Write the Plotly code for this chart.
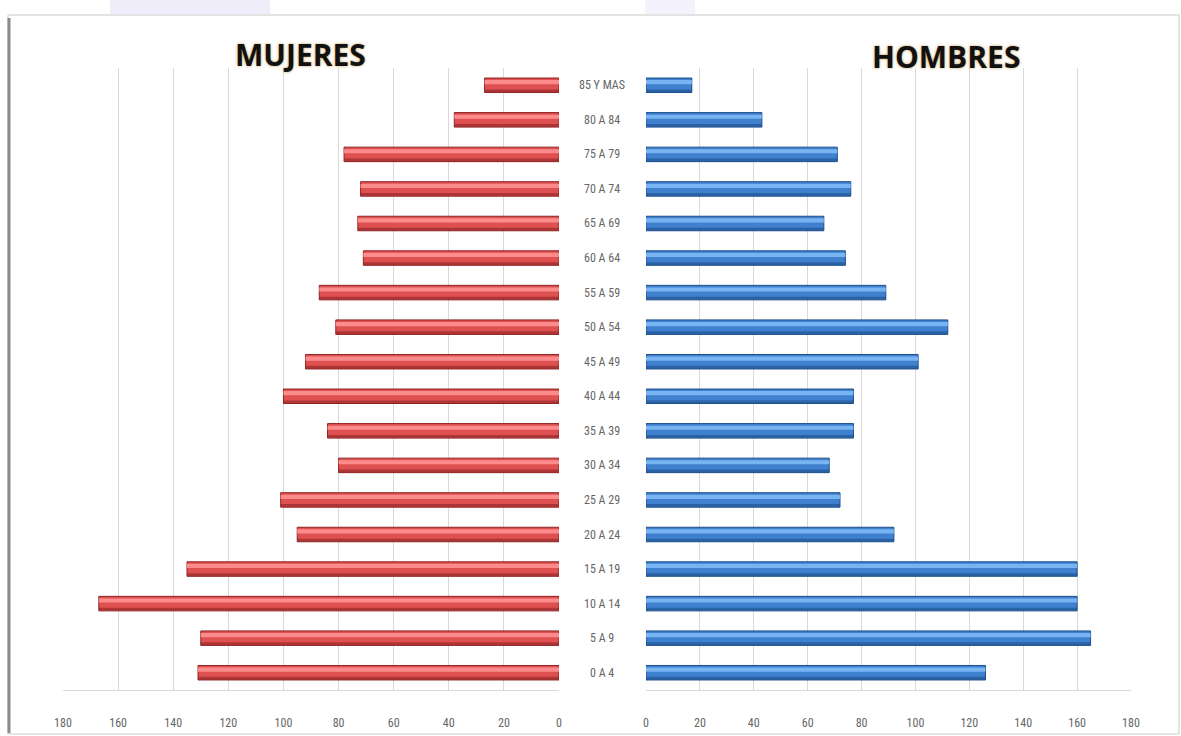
import plotly.graph_objects as go

categories = ["0 A 4", "5 A 9", "10 A 14", "15 A 19", "20 A 24", "25 A 29", "30 A 34",
              "35 A 39", "40 A 44", "45 A 49", "50 A 54", "55 A 59", "60 A 64",
              "65 A 69", "70 A 74", "75 A 79", "80 A 84", "85 Y MAS"]
mujeres = [131, 130, 167, 135, 95, 101, 80, 84, 100, 92, 81, 87, 71, 73, 72, 78, 38, 27]
hombres = [126, 165, 160, 160, 92, 72, 68, 77, 77, 101, 112, 89, 74, 66, 76, 71, 43, 17]
tick_vals = [0, 20, 40, 60, 80, 100, 120, 140, 160, 180]

W, H = 1181, 736
def px_x(p): return p / W
def px_y(p): return 1 - p / H

fig = go.Figure()

def add_side(vals, xa, ya, base, dark, light):
    fig.add_trace(go.Bar(y=categories, x=vals, orientation="h", xaxis=xa, yaxis=ya,
                         width=0.42, marker=dict(color=base, line=dict(color=dark, width=1)),
                         showlegend=False, hoverinfo="x+y"))
    fig.add_trace(go.Bar(y=categories, x=vals, orientation="h", xaxis=xa, yaxis=ya,
                         width=0.12, offset=0.03, marker=dict(color=light, line=dict(width=0)),
                         showlegend=False, hoverinfo="skip"))
    fig.add_trace(go.Bar(y=categories, x=vals, orientation="h", xaxis=xa, yaxis=ya,
                         width=0.08, offset=-0.2, marker=dict(color=dark, line=dict(width=0)),
                         opacity=0.6, showlegend=False, hoverinfo="skip"))

add_side(mujeres, "x", "y", "#df5050", "#8e2424", "#fc8c8c")
add_side(hombres, "x2", "y2", "#3f80cf", "#1f4f8a", "#78b4f2")

tickfont = dict(family="Liberation Sans Narrow, Arial Narrow, Roboto Condensed, Liberation Sans",
                size=12, color="#666666")
grid = "#d9d9d9"
ydom = [px_y(690), px_y(68)]

fig.update_layout(
    width=W, height=H, autosize=False,
    margin=dict(l=0, r=0, t=0, b=0, pad=0, autoexpand=False),
    paper_bgcolor="white", plot_bgcolor="white",
    barmode="overlay",
    xaxis=dict(domain=[px_x(63), px_x(559)], range=[180, 0], tickvals=tick_vals,
               showgrid=True, gridcolor=grid, zeroline=False, showline=True, linecolor=grid,
               ticks="", tickfont=tickfont, ticklabelstandoff=22, fixedrange=True,
               automargin=False),
    xaxis2=dict(domain=[px_x(646), px_x(1131)], range=[0, 180], tickvals=tick_vals,
                showgrid=True, gridcolor=grid, zeroline=False, showline=True, linecolor=grid,
                ticks="", tickfont=tickfont, ticklabelstandoff=22, fixedrange=True, anchor="y2",
                automargin=False),
    yaxis=dict(domain=ydom, categoryorder="array", categoryarray=categories,
               range=[-0.5, 17.5], showticklabels=False, showgrid=False, zeroline=False,
               showline=False, fixedrange=True, automargin=False),
    yaxis2=dict(domain=ydom, categoryorder="array", categoryarray=categories,
                range=[-0.5, 17.5], showticklabels=False, showgrid=False, zeroline=False,
                showline=False, anchor="x2", fixedrange=True, automargin=False),
)

# category labels in the centre gap
for c in categories:
    fig.add_annotation(x=px_x(602), xref="paper", y=c, yref="y", text=c, showarrow=False,
                       font=tickfont, xanchor="center", yanchor="middle")

title_font = dict(family="Open Sans, Liberation Sans", size=30, color="#111111",
                  weight="bold", shadow="0px 0px 3px #c89a50")
fig.add_annotation(x=px_x(300), y=px_y(55), xref="paper", yref="paper", text="MUJERES",
                   showarrow=False, font=title_font, xanchor="center", yanchor="middle")
fig.add_annotation(x=px_x(946), y=px_y(56), xref="paper", yref="paper", text="HOMBRES",
                   showarrow=False, font=title_font, xanchor="center", yanchor="middle")

# faint lavender blobs above the frame
fig.add_shape(type="rect", xref="paper", yref="paper", x0=px_x(110), x1=px_x(270),
              y0=px_y(14), y1=px_y(0), fillcolor="#e4def8", opacity=0.55,
              line=dict(width=0), layer="below")
fig.add_shape(type="rect", xref="paper", yref="paper", x0=px_x(645), x1=px_x(695),
              y0=px_y(14), y1=px_y(0), fillcolor="#e4def8", opacity=0.4,
              line=dict(width=0), layer="below")

# outer frame with left shadow
fig.add_shape(type="rect", xref="paper", yref="paper", x0=px_x(8), x1=px_x(1179),
              y0=px_y(734), y1=px_y(15), line=dict(color="#c8c8c8", width=1), layer="below")
fig.add_shape(type="line", xref="paper", yref="paper", x0=px_x(9), x1=px_x(9),
              y0=px_y(733), y1=px_y(18), line=dict(color="#8a8a8a", width=3), layer="below")

fig.write_html("out.html", config={"displayModeBar": False},
               post_script="document.body.style.margin='0';document.body.style.overflow='hidden';")
